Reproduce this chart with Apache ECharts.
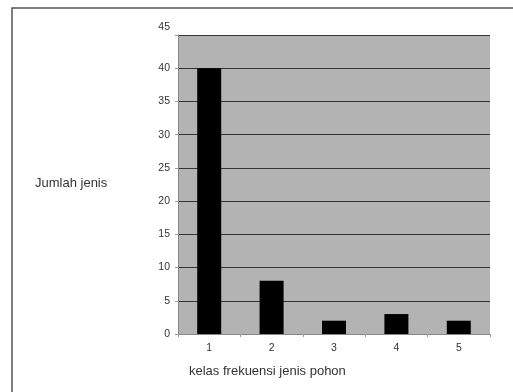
<!DOCTYPE html>
<html>
<head>
<meta charset="utf-8">
<script src="https://cdn.jsdelivr.net/npm/echarts@6/dist/echarts.min.js"></script>
<style>
  html, body { margin: 0; padding: 0; background: #fff; }
  #chart { width: 513px; height: 392px; }
</style>
</head>
<body>
<div id="chart"></div>
<script>
// frequency classes and number of species per class
var classes = ['1', '2', '3', '4', '5'];
var jumlahJenis = [40, 8, 2, 3, 2];
var yMax = 45;
var yStep = 5;

var myChart = echarts.init(document.getElementById('chart'));

var option = {
  backgroundColor: '#fff',
  animation: false,
  textStyle: { fontFamily: 'Liberation Sans, Arial, sans-serif' },
  grid: {
    left: 178,
    top: 35,
    right: 23,
    bottom: 58,
    show: true,
    backgroundColor: '#b3b3b3',
    borderWidth: 0
  },
  xAxis: {
    type: 'category',
    data: classes,
    axisLine: { show: true, lineStyle: { color: '#888', width: 1 } },
    axisTick: { show: true, length: 3, lineStyle: { color: '#999' } },
    axisLabel: { margin: 9, fontSize: 10.5, color: '#333' },
    splitLine: { show: false }
  },
  yAxis: {
    type: 'value',
    min: 0,
    max: yMax,
    interval: yStep,
    axisLine: { show: true, lineStyle: { color: '#888', width: 1 } },
    axisTick: { show: true, length: 3, lineStyle: { color: '#999' } },
    axisLabel: {
      margin: 8,
      fontSize: 10.5,
      color: '#333',
      formatter: function (value) {
        if (value === yMax) {
          return '{top|' + value + '}';
        }
        return value;
      },
      rich: {
        top: { fontSize: 10.5, color: '#333', padding: [0, 0, 16, 0] }
      }
    },
    splitLine: { show: true, lineStyle: { color: '#333', width: 1 } }
  },
  graphic: [
    {
      type: 'rect',
      shape: { x: 12, y: 8, width: 600, height: 500 },
      style: { fill: 'none', stroke: '#555', lineWidth: 1.5 },
      silent: true
    },
    {
      type: 'text',
      left: 35,
      top: 177,
      style: { text: 'Jumlah jenis', fontSize: 13, fill: '#333', fontFamily: 'Liberation Sans, Arial, sans-serif' }
    },
    {
      type: 'text',
      left: 189,
      top: 365,
      style: { text: 'kelas frekuensi jenis pohon', fontSize: 13, fill: '#333', fontFamily: 'Liberation Sans, Arial, sans-serif' }
    }
  ],
  series: [
    {
      type: 'bar',
      data: jumlahJenis,
      barWidth: 24,
      itemStyle: { color: '#000' }
    }
  ]
};

myChart.setOption(option);
window.addEventListener('resize', myChart.resize);
</script>
</body>
</html>
